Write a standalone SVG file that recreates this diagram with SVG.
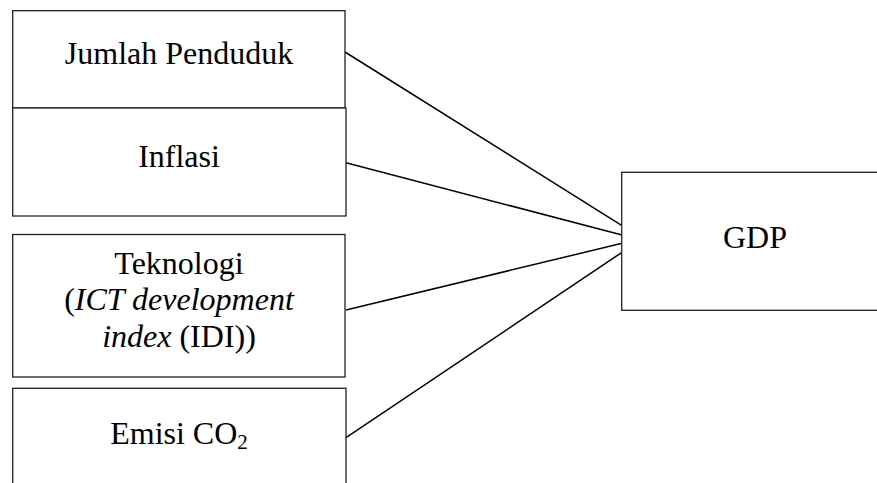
<svg xmlns="http://www.w3.org/2000/svg" width="877" height="483" viewBox="0 0 877 483">
<style>
.box{fill:#fff;stroke:#222;stroke-width:1.3}
.t{font-size:32px;fill:#000;text-anchor:middle}
.c{stroke:#000;stroke-width:1.5;fill:none}
</style>
<rect width="877" height="483" fill="#fff"/>
<g id="connectors">
<line class="c" x1="345" y1="52" x2="622" y2="225.7"/>
<line class="c" x1="346" y1="162.7" x2="622" y2="235"/>
<line class="c" x1="346" y1="310" x2="622" y2="243.3"/>
<line class="c" x1="346" y1="437.7" x2="622" y2="252.3"/>
</g>
<g font-family="Liberation Serif, Times New Roman, serif">
<g id="node-jumlah">
<rect class="box" x="12.7" y="10.7" width="332.3" height="97.3"/>
<text class="t" x="179" y="64">Jumlah Penduduk</text>
</g>
<g id="node-inflasi">
<rect class="box" x="12.7" y="108" width="333.3" height="108"/>
<text class="t" x="179" y="167">Inflasi</text>
</g>
<g id="node-teknologi">
<rect class="box" x="12.7" y="234.5" width="332.3" height="142.5"/>
<text class="t" x="179" y="274.3">Teknologi</text>
<text class="t" x="179" y="310.3">(<tspan font-style="italic">ICT development</tspan></text>
<text class="t" x="179" y="346.7"><tspan font-style="italic">index</tspan> (IDI))</text>
</g>
<g id="node-emisi">
<rect class="box" x="12.7" y="388.3" width="333.3" height="130"/>
<text class="t" x="179" y="443.7">Emisi CO<tspan font-size="21" dy="5">2</tspan></text>
</g>
<g id="node-gdp">
<rect class="box" x="621.7" y="172.3" width="280" height="138"/>
<text class="t" x="755" y="248.3">GDP</text>
</g>
</g>
</svg>
